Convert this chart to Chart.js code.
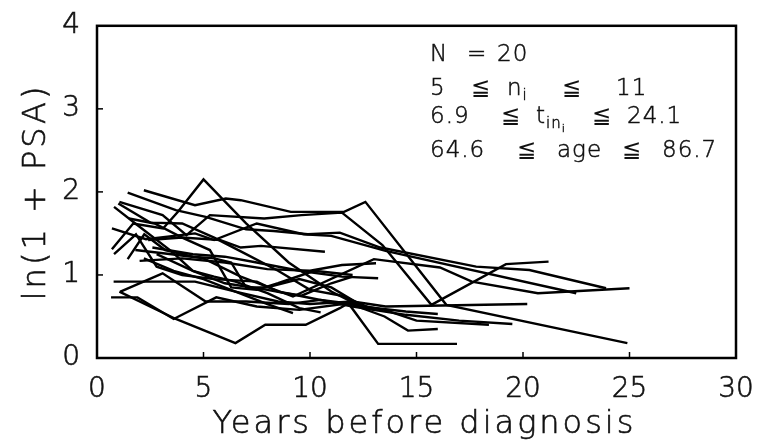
<!DOCTYPE html>
<html>
<head>
<meta charset="utf-8">
<script src="https://cdn.jsdelivr.net/npm/chart.js@4"></script>
<style>
  html, body { margin: 0; padding: 0; background: #fff; }
  #wrap { width: 765px; height: 444px; }
</style>
</head>
<body>
<div id="wrap"><canvas id="psaChart" width="765" height="444"></canvas></div>
<script>
/* --- 1. DATA: one row per subject (years before diagnosis, ln(1 + PSA)) --- */
const years = [
    [0.7, 1.7, 3.1, 3.8, 5.0, 7.0, 9.0, 11.0, 12.4, 14.5, 16.0],
    [1.44, 3.7, 5.1, 7.0, 8.3, 9.9, 11.4, 13.3, 17.8, 20.3, 23.9],
    [2.2, 4.6, 6.05, 6.75, 9.1, 11.6, 12.6, 16.4, 24.9],
    [1.05, 3.08, 4.2, 5.3, 7.85, 9.6, 11.5, 13.4, 15.7, 19.2, 21.2],
    [1.8, 3.5, 5.0, 6.75, 9.2, 13.0, 16.1, 17.6, 20.7, 25.0],
    [0.7, 2.3, 4.6, 5.5, 7.5, 9.7, 11.0, 13.55, 22.5],
    [0.78, 4.6, 6.5, 8.5, 10.0, 12.0, 13.55, 20.2],
    [1.05, 3.7, 6.5, 7.9, 9.8, 11.4, 11.8, 13.2, 16.9],
    [0.66, 1.9, 3.6, 5.6, 7.5, 9.5, 11.8, 13.5, 14.6, 16.0],
    [1.1, 3.08, 5.1, 7.0, 9.0, 10.5, 12.0, 13.5, 15.0, 18.4],
    [2.4, 4.0, 5.8, 6.75, 7.7, 10.7],
    [2.6, 4.5, 6.0, 7.5, 9.5, 11.5, 13.2],
    [2.0, 4.0, 6.0, 8.0, 10.0, 11.5, 13.1],
    [2.2, 3.6, 5.0, 6.5, 8.0, 9.2],
    [2.8, 4.5, 6.0, 8.0, 9.5, 12.0, 14.5, 17.0, 19.5],
    [1.0, 2.5, 4.0, 5.5, 7.0, 8.5, 10.0, 11.5, 13.0],
    [1.44, 2.22, 3.2, 4.5, 5.5, 6.3, 7.0, 8.0, 9.5, 11.0, 12.5],
    [1.5, 2.7, 4.0, 5.3, 6.3, 7.5, 8.5, 10.2, 12.0],
    [0.8, 1.8, 3.47, 4.5, 5.5, 6.5, 8.0, 9.5, 10.5],
    [0.8, 1.83, 2.8, 4.0, 5.5, 7.5, 8.5, 9.6, 11.0, 12.0]
];

const lnPsa = [
    [1.31, 1.62, 1.56, 1.76, 2.15, 1.62, 1.15, 0.80, 0.62, 0.56, 0.53],
    [1.99, 1.78, 1.70, 1.55, 1.53, 1.49, 1.51, 1.33, 1.10, 1.06, 0.84],
    [2.02, 1.84, 1.92, 1.90, 1.76, 1.76, 1.88, 0.64, 0.18],
    [1.88, 1.72, 1.48, 1.72, 1.68, 1.72, 1.75, 1.36, 0.64, 1.13, 1.16],
    [1.30, 1.25, 1.20, 0.98, 0.74, 1.19, 1.09, 0.92, 0.78, 0.84],
    [1.56, 1.43, 1.50, 1.42, 1.62, 1.49, 1.47, 1.29, 0.78],
    [0.92, 0.92, 0.80, 0.68, 0.65, 0.68, 0.62, 0.65],
    [0.80, 0.47, 0.18, 0.40, 0.40, 0.60, 0.66, 0.17, 0.17],
    [0.73, 0.73, 0.47, 0.73, 0.62, 0.58, 0.66, 0.50, 0.33, 0.35],
    [0.80, 1.02, 0.68, 0.68, 0.65, 0.70, 0.65, 0.58, 0.45, 0.40],
    [1.42, 1.45, 1.42, 1.33, 1.35, 1.28],
    [1.33, 1.25, 1.22, 1.15, 1.05, 0.98, 0.96],
    [1.17, 1.20, 1.15, 1.07, 1.05, 1.12, 1.14],
    [1.20, 1.05, 0.95, 0.80, 0.65, 0.54],
    [1.25, 1.05, 0.90, 0.82, 0.75, 0.62, 0.52, 0.45, 0.41],
    [1.86, 1.63, 1.62, 1.45, 1.25, 1.05, 0.82, 0.75, 0.58],
    [1.19, 1.49, 1.30, 1.22, 1.20, 1.15, 0.85, 0.85, 0.95, 0.85, 0.62],
    [1.68, 1.62, 1.45, 1.30, 0.85, 0.82, 0.90, 1.05, 1.00],
    [1.82, 1.62, 1.29, 1.05, 0.98, 0.92, 0.78, 0.60, 0.55],
    [1.25, 1.49, 1.10, 1.00, 0.95, 0.92, 0.80, 0.75, 0.90, 0.98]
];

const xTicks = [0, 5, 10, 15, 20, 25, 30];
const yTicks = [0, 1, 2, 3, 4];
const xTitle = 'Years before diagnosis';
const yTitle = 'ln(1 + PSA)';

// summary box, each row split into [text, x, subscript, sub-subscript]
const summaryRows = [
    { y: 61,  parts: [['N', 430], ['=', 467], ['20', 497]] },
    { y: 95,  parts: [['5', 430], ['\u2266', 471], ['n', 507, 'i'], ['\u2266', 562], ['11', 616]] },
    { y: 123, parts: [['6.9', 430], ['\u2266', 501], ['t', 536, 'in', 'i'], ['\u2266', 592], ['24.1', 627]] },
    { y: 157, parts: [['64.6', 430], ['\u2266', 517], ['age', 557], ['\u2266', 622], ['86.7', 662]] }
];

const FONT = '"DejaVu Sans", "Liberation Sans", sans-serif';
const INK = '#111';

// thin font, traced once more with a hairline so it reads darker;
// the relation sign falls back to a heavier face, so it is only filled
function inkText(ctx, txt, x, y) {
    ctx.fillText(txt, x, y);
    if (txt !== '\u2266') ctx.strokeText(txt, x, y);
}

/* --- 2. PLUGIN: box frame, inward ticks, titles, summary text --- */
const frameAndText = {
    id: 'frameAndText',
    afterDatasetsDraw(chart) {
        const { ctx, chartArea: a, scales: { x, y } } = chart;
        ctx.save();
        ctx.strokeStyle = '#000';
        ctx.lineWidth = 2.5;
        ctx.strokeRect(a.left, a.top, a.right - a.left, a.bottom - a.top);

        ctx.lineWidth = 1.5;
        xTicks.slice(1, -1).forEach(v => {
            const px = x.getPixelForValue(v);
            ctx.beginPath();
            ctx.moveTo(px, a.bottom);
            ctx.lineTo(px, a.bottom - 6);
            ctx.stroke();
        });
        yTicks.slice(1, -1).forEach(v => {
            const py = y.getPixelForValue(v);
            ctx.beginPath();
            ctx.moveTo(a.left, py);
            ctx.lineTo(a.left + 6, py);
            ctx.stroke();
        });

        ctx.fillStyle = INK;
        ctx.strokeStyle = INK;
        ctx.lineWidth = 0.6;
        ctx.textAlign = 'center';
        ctx.textBaseline = 'alphabetic';
        ctx.font = `200 32px ${FONT}`;
        ctx.letterSpacing = '3px';
        inkText(ctx, xTitle, (a.left + a.right) / 2 + 8, 433);

        ctx.save();
        ctx.translate(45, (a.top + a.bottom) / 2);
        ctx.rotate(-Math.PI / 2);
        inkText(ctx, yTitle, 0, 0);
        ctx.restore();

        ctx.letterSpacing = '1px';
        ctx.textAlign = 'left';
        ctx.lineWidth = 0.5;
        summaryRows.forEach(row => {
            row.parts.forEach(([txt, px, sub, subsub]) => {
                ctx.font = `200 23px ${FONT}`;
                inkText(ctx, txt, px, row.y);
                if (sub) {
                    const w = ctx.measureText(txt).width;
                    ctx.font = `200 15px ${FONT}`;
                    inkText(ctx, sub, px + w, row.y + 5);
                    if (subsub) {
                        const w2 = ctx.measureText(sub).width;
                        ctx.font = `200 11px ${FONT}`;
                        inkText(ctx, subsub, px + w + w2, row.y + 9);
                    }
                }
            });
        });
        ctx.restore();
    }
};

/* --- 3. CHART --- */
const datasets = years.map((ts, i) => ({
    data: ts.map((t, j) => ({ x: t, y: lnPsa[i][j] })),
    borderColor: '#000',
    borderWidth: 2.4,
    pointRadius: 0,
    tension: 0,
    fill: false
}));

const tickStyle = {
    color: INK,
    textStrokeColor: INK,
    textStrokeWidth: 0.6,
    font: { family: FONT, size: 28, weight: 200 }
};

new Chart(document.getElementById('psaChart'), {
    type: 'line',
    data: { datasets },
    plugins: [frameAndText],
    options: {
        responsive: false,
        animation: false,
        devicePixelRatio: 1,
        layout: { padding: { top: 18, right: 29, bottom: 0, left: 0 } },
        plugins: { legend: { display: false }, tooltip: { enabled: false } },
        scales: {
            x: {
                type: 'linear',
                min: 0,
                max: 30,
                afterFit: s => { s.height = 86; },
                afterBuildTicks: s => { s.ticks = xTicks.map(v => ({ value: v })); },
                border: { display: false },
                grid: { display: false },
                ticks: { ...tickStyle, padding: 7 }
            },
            y: {
                type: 'linear',
                min: 0,
                max: 4,
                afterFit: s => { s.width = 97; },
                afterBuildTicks: s => { s.ticks = yTicks.map(v => ({ value: v })); },
                border: { display: false },
                grid: { display: false },
                ticks: { ...tickStyle, padding: 9 }
            }
        }
    }
});
</script>
</body>
</html>
